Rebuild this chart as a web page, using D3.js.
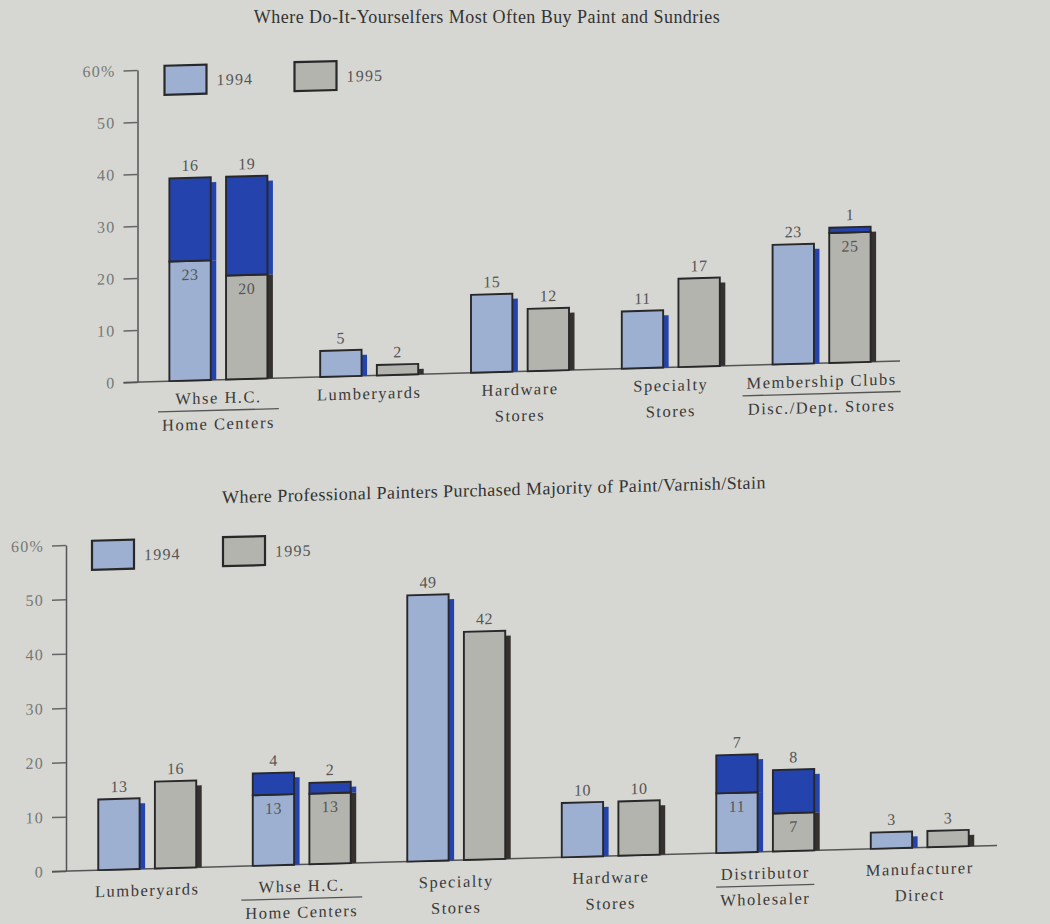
<!DOCTYPE html>
<html>
<head>
<meta charset="utf-8">
<script src="https://cdn.jsdelivr.net/npm/d3@7"></script>
<style>
  html, body { margin: 0; padding: 0; background: #d6d7d2; }
  svg { display: block; }
  text { font-family: "Liberation Serif", "Times New Roman", serif; }
</style>
</head>
<body>
<svg id="chart" width="1050" height="924"></svg>
<script>
// Shared axis ticks and series names
const tickValues = [0, 10, 20, 30, 40, 50, 60];
const tickLabels = ["0", "10", "20", "30", "40", "50", "60%"];
const years = ["1994", "1995"];

// Panel 1: do-it-yourselfers
const diyTitle = "Where Do-It-Yourselfers Most Often Buy Paint and Sundries";
const diyCategories = [
  ["Whse H.C.", "Home Centers"],
  ["Lumberyards"],
  ["Hardware", "Stores"],
  ["Specialty", "Stores"],
  ["Membership Clubs", "Disc./Dept. Stores"]
];
const diyRuled = [true, false, false, false, true];
const diyBase1994 = [23, 5, 15, 11, 23];
const diyUpper1994 = [16, 0, 0, 0, 0];
const diyBase1995 = [20, 2, 12, 17, 25];
const diyUpper1995 = [19, 0, 0, 0, 1];

// Panel 2: professional painters
const proTitle = "Where Professional Painters Purchased Majority of Paint/Varnish/Stain";
const proCategories = [
  ["Lumberyards"],
  ["Whse H.C.", "Home Centers"],
  ["Specialty", "Stores"],
  ["Hardware", "Stores"],
  ["Distributor", "Wholesaler"],
  ["Manufacturer", "Direct"]
];
const proRuled = [false, true, false, false, true, false];
const proBase1994 = [13, 13, 49, 10, 11, 3];
const proUpper1994 = [0, 4, 0, 0, 7, 0];
const proBase1995 = [16, 13, 42, 10, 7, 3];
const proUpper1995 = [0, 2, 0, 0, 8, 0];

// Styling
const baseFill = { "1994": "#9db0d2", "1995": "#b4b4ae" };
const baseShadow = { "1994": "#2443ac", "1995": "#35312e" };
const upperFill = "#2443ac";
const upperShadow = "#2443ac";
const outline = "#28282b";
const SKEW = -1.575; // degrees; the printed page sits slightly tilted

const svg = d3.select("#chart");

function drawPanel(cfg) {
  const g = svg.append("g")
    .attr("transform", `translate(${cfg.axisX},0) skewY(${SKEW}) translate(${-cfg.axisX},0)`);

  const y = d3.scaleLinear().domain([0, 60]).range([cfg.y0, cfg.y60]);
  const idx = cfg.categories.map((_, i) => i);
  const x0 = d3.scaleBand().domain(idx).range([cfg.xStart, cfg.xEnd])
    .paddingInner(cfg.pad).paddingOuter(cfg.pad / 2);
  const x1 = d3.scaleBand().domain(years).range([0, x0.bandwidth()]).paddingInner(0.27);

  const data = idx.map(i => ({
    i,
    lines: cfg.categories[i],
    ruled: cfg.ruled[i],
    bars: years.map(yr => ({ year: yr, base: cfg.base[yr][i], upper: cfg.upper[yr][i] }))
  }));

  // Title
  const titleParent = cfg.titleSkewed ? g : svg;
  titleParent.append("text").attr("x", cfg.titleX).attr("y", cfg.titleY)
    .attr("text-anchor", "middle").attr("font-size", 18).attr("letter-spacing", 0.45)
    .attr("fill", "#333").text(cfg.title);

  // Y axis
  const axis = d3.axisLeft(y).tickValues(tickValues)
    .tickFormat((d, k) => tickLabels[k]).tickSize(14).tickSizeOuter(0).tickPadding(8);
  const ag = g.append("g").attr("transform", `translate(${cfg.axisX},0)`).call(axis);
  ag.select(".domain").attr("stroke", "#555").attr("stroke-width", 1.5);
  ag.selectAll(".tick line").attr("stroke", "#666").attr("stroke-width", 1.5);
  ag.selectAll(".tick text").attr("fill", "#777").attr("font-size", 16)
    .attr("letter-spacing", 1.2).attr("font-family", "Liberation Serif, serif");

  // Baseline
  g.append("line").attr("x1", cfg.axisX - 14).attr("x2", cfg.lineEnd)
    .attr("y1", y(0)).attr("y2", y(0)).attr("stroke", "#555").attr("stroke-width", 1.5);

  // Legend
  years.forEach((yr, k) => {
    const lx = cfg.axisX + cfg.legendX[k];
    const ly = y(60) - 3.5;
    g.append("rect").attr("x", lx).attr("y", ly).attr("width", 42).attr("height", 29)
      .attr("fill", baseFill[yr]).attr("stroke", outline).attr("stroke-width", 2.2);
    g.append("text").attr("x", lx + 52).attr("y", ly + 21).attr("font-size", 16)
      .attr("letter-spacing", 1.2).attr("fill", "#555").text(yr);
  });

  // Bars
  const cat = g.selectAll("g.cat").data(data).join("g").attr("class", "cat")
    .attr("transform", d => `translate(${x0(d.i)},0)`);

  const bar = cat.selectAll("g.bar").data(d => d.bars).join("g").attr("class", "bar")
    .attr("transform", d => `translate(${x1(d.year)},0)`);
  const w = x1.bandwidth();
  const sh = 5.5;

  // drop shadows on the right edge
  bar.append("rect")
    .attr("x", w).attr("width", sh)
    .attr("y", d => (d.upper > 0 ? y(d.base) : y(d.base) + 5))
    .attr("height", d => y(0) - (d.upper > 0 ? y(d.base) : y(d.base) + 5))
    .attr("fill", d => baseShadow[d.year]);
  bar.filter(d => d.upper > 0).append("rect")
    .attr("x", w).attr("width", sh)
    .attr("y", d => y(d.base + d.upper) + 5)
    .attr("height", d => y(d.base) - y(d.base + d.upper) - 5)
    .attr("fill", upperShadow);

  // lower segment
  bar.append("rect")
    .attr("x", 0).attr("width", w)
    .attr("y", d => y(d.base)).attr("height", d => y(0) - y(d.base))
    .attr("fill", d => baseFill[d.year]).attr("stroke", outline).attr("stroke-width", 1.9);
  // upper segment
  bar.filter(d => d.upper > 0).append("rect")
    .attr("x", 0).attr("width", w)
    .attr("y", d => y(d.base + d.upper)).attr("height", d => y(d.base) - y(d.base + d.upper))
    .attr("fill", upperFill).attr("stroke", outline).attr("stroke-width", 1.9);

  // value labels
  bar.append("text")
    .attr("x", w / 2).attr("y", d => y(d.base + d.upper) - 7)
    .attr("text-anchor", "middle").attr("font-size", 16).attr("letter-spacing", 0.5)
    .attr("fill", "#555")
    .text(d => (d.upper > 0 ? d.upper : d.base));
  bar.filter(d => d.upper > 0).append("text")
    .attr("x", w / 2).attr("y", d => y(d.base) + 19)
    .attr("text-anchor", "middle").attr("font-size", 16).attr("letter-spacing", 0.5)
    .attr("fill", "#555")
    .text(d => d.base);

  // Category labels
  const cx = x0.bandwidth() / 2;
  cat.each(function (d) {
    const c = d3.select(this);
    const texts = d.lines.map((line, k) =>
      c.append("text").attr("x", cx).attr("y", y(0) + cfg.lineOffsets[k])
        .attr("text-anchor", "middle").attr("font-size", 16.5).attr("letter-spacing", 1.5)
        .attr("fill", "#3a3a3a").text(line));
    if (d.ruled) {
      const wMax = d3.max(texts, t => t.node().getComputedTextLength());
      c.append("line").attr("x1", cx - wMax / 2 - 4).attr("x2", cx + wMax / 2 + 4)
        .attr("y1", y(0) + cfg.ruleOffset).attr("y2", y(0) + cfg.ruleOffset)
        .attr("stroke", "#555").attr("stroke-width", 1.3);
    }
  });
}

drawPanel({
  axisX: 137.5, y0: 382, y60: 70, xStart: 143, xEnd: 897, lineEnd: 900, pad: 0.35,
  title: diyTitle, titleX: 487, titleY: 23, titleSkewed: false,
  legendX: [27, 157],
  categories: diyCategories, ruled: diyRuled,
  base: { "1994": diyBase1994, "1995": diyBase1995 },
  upper: { "1994": diyUpper1994, "1995": diyUpper1995 },
  lineOffsets: [23.5, 49.5], ruleOffset: 30.5
});

drawPanel({
  axisX: 66, y0: 871, y60: 545, xStart: 70, xEnd: 997, lineEnd: 997, pad: 0.366,
  title: proTitle, titleX: 494, titleY: 507.5, titleSkewed: true,
  legendX: [26, 157],
  categories: proCategories, ruled: proRuled,
  base: { "1994": proBase1994, "1995": proBase1995 },
  upper: { "1994": proUpper1994, "1995": proUpper1995 },
  lineOffsets: [27, 53], ruleOffset: 34
});
</script>
</body>
</html>
